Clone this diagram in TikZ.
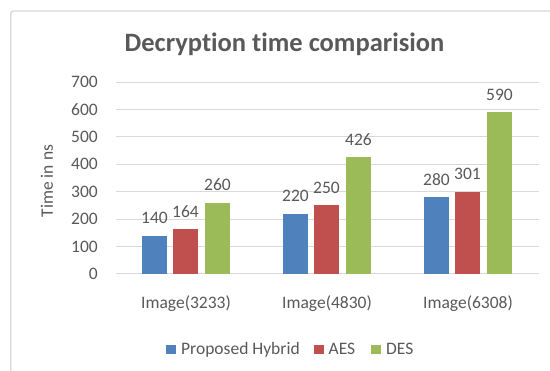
\documentclass[tikz,border=0pt]{standalone}
\usepackage{fontspec}
\setmainfont{Carlito}[Ligatures=NoCommon]
\definecolor{txt}{HTML}{595959}
\definecolor{gridc}{HTML}{D9D9D9}
\definecolor{framec}{HTML}{D9D9D9}
\definecolor{hyb}{HTML}{4F81BD}
\definecolor{aes}{HTML}{C0504D}
\definecolor{des}{HTML}{9BBB59}
\begin{document}
\begin{tikzpicture}[x=1pt,y=-1pt,
  lbl/.style={font=\fontsize{17.5}{20}\selectfont, text=txt, inner sep=0pt},
  gline/.style={draw=gridc, line width=1pt}]
\useasboundingbox (0,0) rectangle (550,371);
\fill[white] (0,0) rectangle (550,371);
% chart frame (only top and left edges fall inside the page)
\begin{scope}
  \clip (0,0) rectangle (550,371);
  \draw[framec, line width=1.4pt, rounded corners=3pt] (10.7,430) -- (10.7,11) -- (620,11);
\end{scope}
% title
\node[font=\fontsize{26.5}{30}\selectfont\bfseries, text=txt, anchor=base, inner sep=0pt]
  (title) at (284.5,51.5) {Decryption time comparision};
% gridlines and value axis labels
\foreach \v in {0,...,7}{
  \draw[gline] (116,{274-\v*27.4}) -- (539,{274-\v*27.4});
  \pgfmathtruncatemacro{\val}{\v*100}
  \node[lbl, anchor=base east] (tick\v) at (98,{274-\v*27.4+5.5}) {\val};
}
% axis title
\node[lbl, rotate=90] (ytitle) at (47,181) {Time in ns};
% bars, value labels and category labels
\foreach \g/\a/\b/\c/\nm in {0/140/164/260/3233, 1/220/250/426/4830, 2/280/301/590/6308}{
  \pgfmathsetmacro{\cx}{186+141*\g}
  \fill[hyb] ({\cx-31.5-12.5},274) rectangle ({\cx-31.5+12.5},{274-\a*0.274});
  \fill[aes] ({\cx-0.5-12.5},274) rectangle ({\cx-0.5+12.5},{274-\b*0.274});
  \fill[des] ({\cx+31.5-12.5},274) rectangle ({\cx+31.5+12.5},{274-\c*0.274});
  \node[lbl, anchor=base] (va\g) at ({\cx-31.5},{274-\a*0.274-12}) {\a};
  \node[lbl, anchor=base] (vb\g) at ({\cx-0.5},{274-\b*0.274-12}) {\b};
  \node[lbl, anchor=base] (vc\g) at ({\cx+31.5},{274-\c*0.274-12}) {\c};
  \node[lbl, anchor=base] (cat\g) at (\cx,309) {Image(\nm)};
}
% legend
\fill[hyb] (166,345.5) rectangle (176,354.5);
\node[lbl, anchor=base west] (lg1) at (181,355) {Proposed Hybrid};
\fill[aes] (314,345.5) rectangle (324,354.5);
\node[lbl, anchor=base west] (lg2) at (328.5,355) {AES};
\fill[des] (371,345.5) rectangle (381,354.5);
\node[lbl, anchor=base west] (lg3) at (386,355) {DES};
\end{tikzpicture}
\end{document}
